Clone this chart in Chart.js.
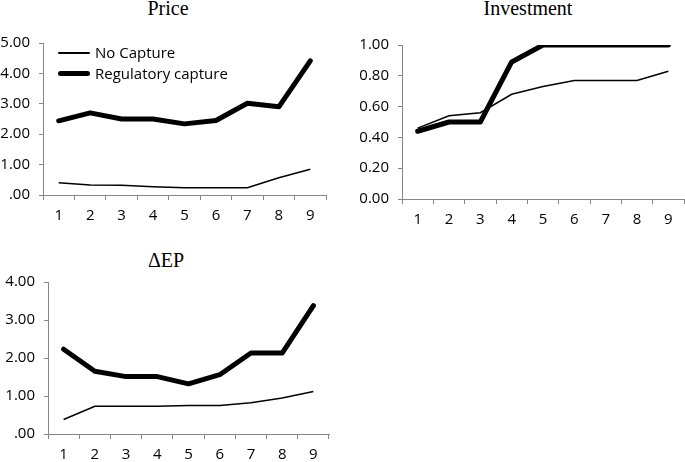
<!DOCTYPE html>
<html lang="en">
<head>
  <meta charset="UTF-8">
  <title>Price, Investment, ΔEP</title>
  <script src="https://cdn.jsdelivr.net/npm/chart.js"></script>
  <style>
    body { margin: 0; background: #fff; width: 685px; height: 462px; overflow: hidden; position: relative; }
    .box { position: absolute; }
    .title { position: absolute; width: 200px; text-align: center; font-family: "Liberation Serif", "Times New Roman", serif; font-size: 20px; line-height: 20px; color: #000; }
    .legend { position: absolute; left: 58px; top: 42px; font-family: "Open Sans", sans-serif; font-size: 15px; color: #000; }
    .legend .row { position: relative; height: 21px; }
    .legend .swatch { position: absolute; left: 0; width: 32px; background: #000; border-radius: 3px; }
    .legend .txt { position: absolute; left: 37px; line-height: 21px; top: 0; white-space: nowrap; }
  </style>
</head>
<body>
  <div class="title" style="left:68px; top:-2px;">Price</div>
  <div class="title" style="left:428px; top:-2px;">Investment</div>
  <div class="title" style="left:66px; top:250px;">ΔEP</div>

  <div class="box" style="left:0; top:0;"><canvas id="priceChart" width="336" height="230"></canvas></div>
  <div class="box" style="left:345px; top:0;"><canvas id="invChart" width="340" height="230"></canvas></div>
  <div class="box" style="left:0; top:230px;"><canvas id="epChart" width="340" height="232"></canvas></div>

  <div class="legend">
    <div class="row"><div class="swatch" style="top:10px; height:1.5px;"></div><div class="txt">No Capture</div></div>
    <div class="row"><div class="swatch" style="top:8px; height:5px;"></div><div class="txt">Regulatory capture</div></div>
  </div>

  <script>
    const periods = ["1", "2", "3", "4", "5", "6", "7", "8", "9"];

    const priceNoCapture = [0.40, 0.33, 0.32, 0.27, 0.24, 0.24, 0.24, 0.57, 0.85];
    const priceCapture   = [2.44, 2.70, 2.50, 2.50, 2.34, 2.45, 3.02, 2.90, 4.41];

    const invNoCapture = [0.46, 0.54, 0.56, 0.68, 0.73, 0.77, 0.77, 0.77, 0.83];
    const invCapture   = [0.44, 0.50, 0.50, 0.89, 1.00, 1.00, 1.00, 1.00, 1.00];

    const epNoCapture = [0.38, 0.73, 0.73, 0.73, 0.75, 0.75, 0.82, 0.95, 1.12];
    const epCapture   = [2.23, 1.65, 1.51, 1.51, 1.32, 1.56, 2.13, 2.13, 3.38];

    const axisGray = '#868686';
    const tickFont = { family: 'Open Sans', size: 15 };

    function makeChart(id, noCap, cap, yMax, yStep, zeroLabel, yWidth, pad) {
      return new Chart(document.getElementById(id), {
        type: 'line',
        data: {
          labels: periods,
          datasets: [
            { label: 'No Capture', data: noCap, borderColor: '#000', borderWidth: 1.5, pointRadius: 0, tension: 0 },
            { label: 'Regulatory capture', data: cap, borderColor: '#000', borderWidth: 5, pointRadius: 0, tension: 0,
              borderCapStyle: 'round', borderJoinStyle: 'round' }
          ]
        },
        options: {
          responsive: false,
          animation: false,
          events: [],
          layout: { padding: pad },
          plugins: { legend: { display: false }, title: { display: false }, tooltip: { enabled: false } },
          scales: {
            x: {
              offset: true,
              grid: { offset: true, drawOnChartArea: false, tickLength: 5, color: axisGray },
              border: { color: axisGray, width: 1 },
              ticks: { color: '#000', font: tickFont, padding: 7, maxRotation: 0 },
              afterFit: s => { s.height = 26; }
            },
            y: {
              min: 0, max: yMax,
              grid: { drawOnChartArea: false, tickLength: 4, color: axisGray },
              border: { color: axisGray, width: 1 },
              ticks: {
                stepSize: yStep, color: '#000', font: tickFont, padding: 9,
                callback: v => (Math.abs(v) < 1e-9 ? zeroLabel : v.toFixed(2))
              },
              afterFit: s => { s.width = yWidth; }
            }
          }
        }
      });
    }

    makeChart('priceChart', priceNoCapture, priceCapture, 5, 1, '.00', 43, { top: 43, right: 10, bottom: 9, left: 0 });
    makeChart('invChart', invNoCapture, invCapture, 1, 0.2, '0.00', 57, { top: 45, right: 1, bottom: 5, left: 0 });
    makeChart('epChart', epNoCapture, epCapture, 4, 1, '.00', 48, { top: 52, right: 11, bottom: 2, left: 0 });
  </script>
</body>
</html>
